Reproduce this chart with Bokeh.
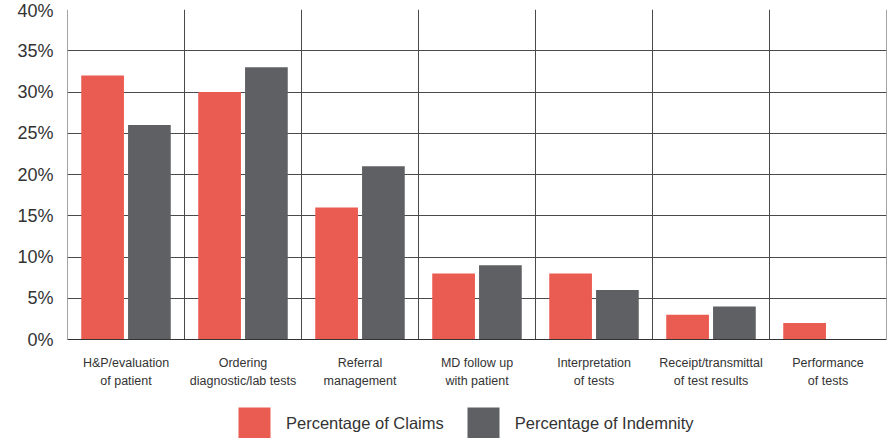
from bokeh.plotting import figure
from bokeh.models import FixedTicker, Range1d, Legend, LegendItem, ColumnDataSource, Span
from bokeh.transform import dodge
from bokeh.embed import file_html
from bokeh.resources import INLINE

categories = ["H&P/evaluation\nof patient", "Ordering\ndiagnostic/lab tests",
              "Referral\nmanagement", "MD follow up\nwith patient",
              "Interpretation\nof tests", "Receipt/transmittal\nof test results",
              "Performance\nof tests"]
claims = [32, 30, 16, 8, 8, 3, 2]
indemnity = [26, 33, 21, 9, 6, 4, 0]
y_ticks = [0, 5, 10, 15, 20, 25, 30, 35, 40]
series_names = ["Percentage of Claims", "Percentage of Indemnity"]

RED = "#EA5B51"
GRAY = "#5F6063"
FONT = "Liberation Sans"
TEXT = "#333333"
GRID = "#4a4a4a"

n = len(categories)
centers = [i + 0.5 for i in range(n)]
src = ColumnDataSource(dict(x=centers, claims=claims, indemnity=indemnity, label=categories,
                            base=[0] * n))
bounds = list(range(n + 1))
ymax = y_ticks[-1]
# frame extends below 0% to host the category labels and the legend (12% of value span)
p = figure(frame_width=819, frame_height=429, x_range=Range1d(0, n), y_range=Range1d(-12, ymax),
           output_backend="svg", toolbar_location=None, x_axis_location=None,
           min_border_left=67, min_border_right=5, min_border_top=9, min_border_bottom=0)
p.outline_line_color = None
p.xgrid.visible = False

p.ygrid.ticker = FixedTicker(ticks=y_ticks)
p.ygrid.grid_line_color = GRID
p.ygrid.grid_line_width = 1

# vertical separators between categories
p.segment(x0=bounds, y0=[0] * len(bounds), x1=bounds, y1=[ymax] * len(bounds),
          line_color=GRID, line_width=1)
p.add_layout(Span(location=0, dimension="width", line_color=TEXT, line_width=1))

r1 = p.vbar(x=dodge("x", -0.2, range=p.x_range), top="claims", width=0.365, bottom=0,
            source=src, fill_color=RED, line_color=None)
r2 = p.vbar(x=dodge("x", 0.2, range=p.x_range), top="indemnity", width=0.365, bottom=0,
            source=src, fill_color=GRAY, line_color=None)

# category labels
p.text(x="x", y="base", text="label", source=src, text_align="center", text_baseline="top",
       y_offset=16, text_font={"value": FONT}, text_font_size="12.5px", text_color=TEXT,
       text_line_height=1.3)

# y axis
p.yaxis.ticker = FixedTicker(ticks=y_ticks)
p.yaxis.major_label_overrides = {t: f"{t}%" for t in y_ticks}
p.yaxis.axis_line_color = None
p.yaxis.major_tick_line_color = None
p.yaxis.minor_tick_line_color = None
p.yaxis.major_label_text_font = FONT
p.yaxis.major_label_text_font_size = "18px"
p.yaxis.major_label_text_color = TEXT
p.yaxis.major_label_standoff = 8

legend = Legend(items=[LegendItem(label=series_names[0], renderers=[r1]),
                       LegendItem(label=series_names[1], renderers=[r2])],
                orientation="horizontal", location=(167, -5),
                glyph_width=40, glyph_height=40, label_standoff=12, spacing=19,
                border_line_color=None, background_fill_alpha=0, padding=0, margin=0,
                label_text_font=FONT, label_text_font_size="16.5px", label_text_color=TEXT)
p.add_layout(legend)

open("out.html", "w").write(file_html(p, INLINE))
